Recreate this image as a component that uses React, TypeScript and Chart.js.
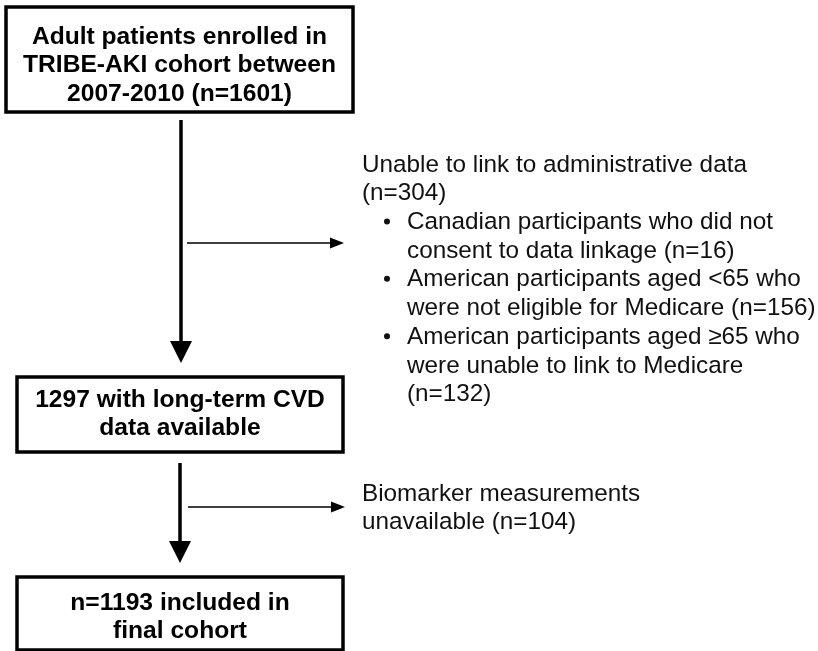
import React, { useEffect, useRef } from "react";
import { Chart, registerables } from "chart.js";

Chart.register(...registerables);

// ---- content ----
const boxLabels: string[][] = [
  ["Adult patients enrolled in", "TRIBE-AKI cohort between", "2007-2010 (n=1601)"],
  ["1297 with long-term CVD", "data available"],
  ["n=1193 included in", "final cohort"],
];
const exclusionHeaders: string[][] = [
  ["Unable to link to administrative data", "(n=304)"],
  ["Biomarker measurements", "unavailable (n=104)"],
];
const exclusionBullets: string[][] = [
  ["Canadian participants who did not", "consent to data linkage (n=16)"],
  ["American participants aged <65 who", "were not eligible for Medicare (n=156)"],
  ["American participants aged \u226565 who", "were unable to link to Medicare", "(n=132)"],
];

// ---- layout (data-space coordinates on a 818 x 651 grid) ----
const BOX_GEOM = [
  { x0: 6, x1: 353, y0: 7, y1: 112, firstLine: 37 },
  { x0: 17, x1: 343, y0: 377, y1: 452, firstLine: 400 },
  { x0: 17, x1: 343, y0: 577, y1: 650, firstLine: 603 },
];
const MAIN_ARROWS = [
  { x: 181, y0: 120, y1: 363 },
  { x: 180, y0: 463, y1: 563 },
];
const SIDE_ARROWS = [
  { y: 243, x0: 187, x1: 344 },
  { y: 507, x0: 188, x1: 345 },
];
const SIDE_TEXT = { x: 362, bulletX: 387, bulletTextX: 407, firstLine: [165, 494], lineGap: 28.7 };
const BOX_LINE_GAP = 28.5;

const FONT_BOLD = "bold 24.6px 'Liberation Sans', Arial, sans-serif";
const FONT_REG = "24.3px 'Liberation Sans', Arial, sans-serif";

const flowPlugin = {
  id: "flow",
  afterDraw(chart: any) {
    const ctx: CanvasRenderingContext2D = chart.ctx;
    const xs = chart.scales.x;
    const ys = chart.scales.y;
    const px = (v: number) => xs.getPixelForValue(v);
    const py = (v: number) => ys.getPixelForValue(v);
    ctx.save();
    ctx.fillStyle = "#ffffff";
    ctx.fillRect(0, 0, chart.width, chart.height);

    // boxes
    ctx.strokeStyle = "#000";
    ctx.fillStyle = "#000";
    ctx.lineWidth = 3.5;
    BOX_GEOM.forEach((b, i) => {
      ctx.strokeRect(px(b.x0), py(b.y0), px(b.x1) - px(b.x0), py(b.y1) - py(b.y0));
      ctx.font = FONT_BOLD;
      ctx.textAlign = "center";
      ctx.textBaseline = "middle";
      const cx = (px(b.x0) + px(b.x1)) / 2;
      boxLabels[i].forEach((t, j) => {
        ctx.fillText(t, cx, py(b.firstLine + j * BOX_LINE_GAP));
      });
    });

    // main arrows
    MAIN_ARROWS.forEach((a) => {
      const x = px(a.x);
      const tip = py(a.y1);
      ctx.lineWidth = 3.5;
      ctx.beginPath();
      ctx.moveTo(x, py(a.y0));
      ctx.lineTo(x, tip - 18);
      ctx.stroke();
      ctx.beginPath();
      ctx.moveTo(x - 11, tip - 22);
      ctx.lineTo(x + 11, tip - 22);
      ctx.lineTo(x, tip);
      ctx.closePath();
      ctx.fill();
    });

    // side arrows
    SIDE_ARROWS.forEach((a) => {
      const y = py(a.y);
      const tip = px(a.x1);
      ctx.lineWidth = 1.6;
      ctx.beginPath();
      ctx.moveTo(px(a.x0), y);
      ctx.lineTo(tip - 10, y);
      ctx.stroke();
      ctx.beginPath();
      ctx.moveTo(tip - 14, y - 5.5);
      ctx.lineTo(tip, y);
      ctx.lineTo(tip - 14, y + 5.5);
      ctx.closePath();
      ctx.fill();
    });

    // side texts
    ctx.font = FONT_REG;
    ctx.textAlign = "left";
    ctx.textBaseline = "middle";
    ctx.fillStyle = "#111";
    exclusionHeaders.forEach((lines, i) => {
      let y = SIDE_TEXT.firstLine[i];
      lines.forEach((t) => {
        ctx.fillText(t, px(SIDE_TEXT.x), py(y));
        y += SIDE_TEXT.lineGap;
      });
      if (i === 0) {
        exclusionBullets.forEach((bl) => {
          ctx.beginPath();
          ctx.arc(px(SIDE_TEXT.bulletX), py(y) - 1, 3, 0, Math.PI * 2);
          ctx.fill();
          bl.forEach((t) => {
            ctx.fillText(t, px(SIDE_TEXT.bulletTextX), py(y));
            y += SIDE_TEXT.lineGap;
          });
        });
      }
    });
    ctx.restore();
  },
};

export default function App() {
  const ref = useRef<HTMLCanvasElement | null>(null);
  useEffect(() => {
    document.body.style.margin = "0";
    if (!ref.current) return;
    const chart = new Chart(ref.current, {
      type: "scatter",
      data: { datasets: [{ data: [], pointRadius: 0 }] },
      options: {
        animation: false,
        responsive: false,
        maintainAspectRatio: false,
        layout: { padding: 0 },
        events: [],
        plugins: { legend: { display: false }, tooltip: { enabled: false }, title: { display: false } },
        scales: {
          x: { type: "linear", min: 0, max: 818, display: false },
          y: { type: "linear", min: 0, max: 651, reverse: true, display: false },
        },
      },
      plugins: [flowPlugin],
    });
    return () => chart.destroy();
  }, []);
  return (
    <div style={{ position: "absolute", left: 0, top: 0, width: 818, height: 651 }}>
      <canvas ref={ref} width={818} height={651} style={{ display: "block" }} />
    </div>
  );
}
